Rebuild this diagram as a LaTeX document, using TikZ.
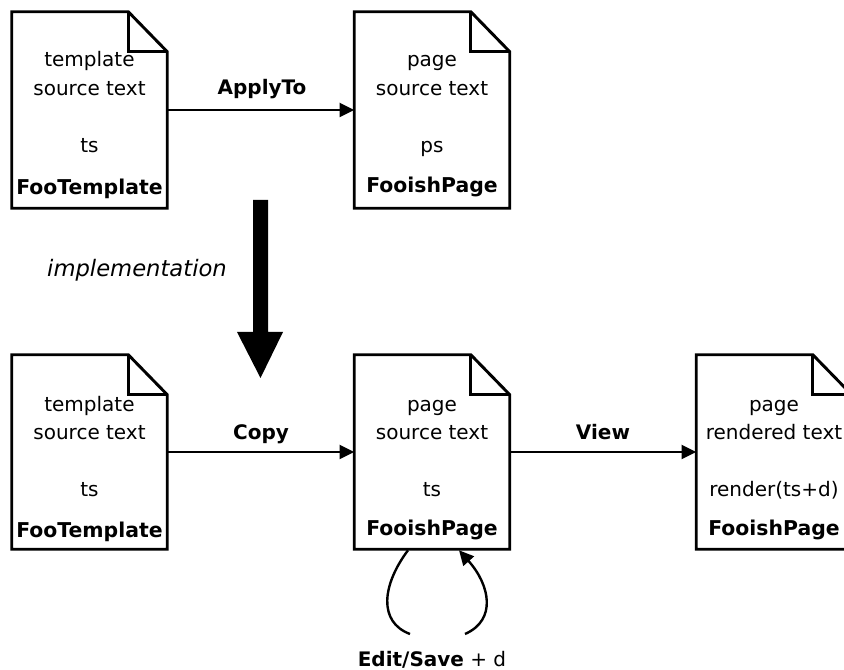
\documentclass[tikz,border=0pt]{standalone}
\usepackage{fontspec}
\setmainfont{DejaVu Sans}
\usetikzlibrary{arrows.meta,calc}

\tikzset{
  docbox/.style={rectangle, draw=none, minimum width=116.25pt, minimum height=145.5pt, inner sep=0pt},
  docline/.style={line width=2.2pt, line join=miter},
  doctext/.style={anchor=base, inner sep=0pt, font=\fontsize{15pt}{18pt}\selectfont},
  doctitle/.style={doctext, font=\fontsize{15.3pt}{18pt}\selectfont\bfseries},
  flow/.style={line width=1.8pt, -{Triangle[length=11pt,width=10.5pt]}},
  flowlabel/.style={anchor=base, inner sep=0pt, font=\fontsize{15pt}{18pt}\selectfont\bfseries},
}

% dog-eared page outline around a named docbox node
\newcommand{\pageoutline}[1]{%
  \draw[docline] (#1.south west) -- (#1.north west) -- ($(#1.north east)+(-39,0)$)
    -- ($(#1.north east)+(0,40)$) -- (#1.south east) -- cycle;
  \draw[docline] ($(#1.north east)+(-39,0)$) -- ($(#1.north east)+(-39,40)$)
    -- ($(#1.north east)+(0,40)$);
}

\begin{document}
\begin{tikzpicture}[x=0.75pt, y=-0.75pt]
\useasboundingbox (0,0) rectangle (844,670);

% top row
\node[docbox, minimum height=147pt] (tpl1) at (89.5,110) {};
\node[docbox, minimum height=147pt] (pg1) at (432,110) {};
% bottom row
\node[docbox] (tpl2) at (89.5,452) {};
\node[docbox] (pg2) at (432,452) {};
\node[docbox] (rend) at (774,452) {};

\pageoutline{tpl1}
\pageoutline{pg1}
\pageoutline{tpl2}
\pageoutline{pg2}
\pageoutline{rend}

% page contents
\node[doctext] (t1a) at (89.5,67) {template};
\node[doctext] (t1b) at (89.5,96) {source text};
\node[doctext] (t1c) at (89.5,153) {ts};
\node[doctitle] (t1d) at (89.5,195) {FooTemplate};

\node[doctext] (p1a) at (432,67) {page};
\node[doctext] (p1b) at (432,96) {source text};
\node[doctext] (p1c) at (432,153) {ps};
\node[doctitle] (p1d) at (432,193) {FooishPage};

\node[doctext] (t2a) at (89.5,412) {template};
\node[doctext] (t2b) at (89.5,440) {source text};
\node[doctext] (t2c) at (89.5,497) {ts};
\node[doctitle] (t2d) at (89.5,538) {FooTemplate};

\node[doctext] (p2a) at (432,412) {page};
\node[doctext] (p2b) at (432,440) {source text};
\node[doctext] (p2c) at (432,497) {ts};
\node[doctitle] (p2d) at (432,536) {FooishPage};

\node[doctext] (r2a) at (774,412) {page};
\node[doctext] (r2b) at (774,440) {rendered text};
\node[doctext] (r2c) at (774,497) {render(ts+d)};
\node[doctitle] (r2d) at (774,536) {FooishPage};

% connectors
\draw[flow] (tpl1.east) -- (pg1.west);
\node[flowlabel] (lapply) at (262,95) {ApplyTo};
\draw[flow] (tpl2.east) -- (pg2.west);
\node[flowlabel] (lcopy) at (261,440) {Copy};
\draw[flow] (pg2.east) -- (rend.west);
\node[flowlabel] (lview) at (603,440) {View};

% edit/save loop below the page
\coordinate (loopA) at (410,634);
\coordinate (loopB) at (465,634);
\draw[line width=1.8pt] ($(pg2.south)+(-24,1)$) .. controls (382,585) and (378,622) .. (loopA);
\draw[flow] (loopB) .. controls (497,620) and (490,585) .. ($(pg2.south)+(27,1)$);
\node[anchor=base, inner sep=0pt, font=\fontsize{15pt}{18pt}\selectfont] (ledit) at (432,667) {\textbf{Edit/Save} + d};

% implementation arrow
\fill (253,200) -- (268,200) -- (268,332) -- (283,332) -- (260.5,378) -- (237,332) -- (253,332) -- cycle;
\node[anchor=base, inner sep=0pt, font=\fontsize{17pt}{20pt}\selectfont\itshape] (limpl) at (137,277) {implementation};

\end{tikzpicture}
\end{document}
